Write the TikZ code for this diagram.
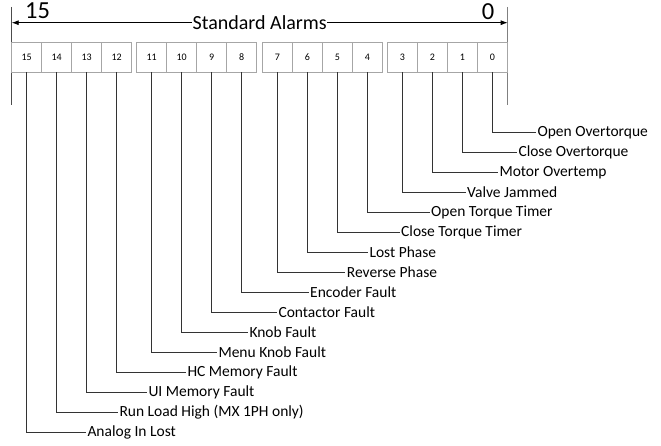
\documentclass[tikz,border=0pt]{standalone}
\usepackage{fontspec}
\setmainfont{Carlito}
\usetikzlibrary{arrows.meta,positioning}

\tikzset{
	bitcell/.style={draw=gray!70,line width=0.8pt,minimum width=30pt,minimum height=30pt,inner sep=0pt,font=\fontsize{10}{11}\selectfont},
	alarm/.style={anchor=west,inner sep=1.5pt,font=\fontsize{15.5}{16}\selectfont},
	lead/.style={line width=0.9pt,draw=black!80}
}

\begin{document}
\begin{tikzpicture}[x=1pt,y=-1pt]
	\useasboundingbox (0,0) rectangle (661,446);
	% end marks of the register
	\coordinate (msbtop) at (11.7,7);
	\coordinate (msbbot) at (11.7,105);
	\coordinate (lsbtop) at (507.7,7);
	\coordinate (lsbbot) at (507.7,105);
	\draw[line width=1pt,draw=black!70] (msbtop) -- (msbbot);
	\draw[line width=1.5pt,draw=gray] (lsbtop) -- (lsbbot);
	\coordinate (arrl) at (11.7,22.7);
	\coordinate (arrr) at (507.7,22.7);
	\draw[line width=0.8pt,{Latex[length=7pt,width=5pt]}-{Latex[length=7pt,width=5pt]}] (arrl) -- (arrr)
		node[midway,fill=white,inner xsep=0.5pt,inner ysep=2pt,font=\fontsize{20}{21}\selectfont] (title) {Standard Alarms};
	\node[font=\fontsize{24.5}{25}\selectfont,inner sep=0pt] (hi) at (37.5,11) {15};
	\node[font=\fontsize{24.5}{25}\selectfont,inner sep=0pt] (lo) at (488,12) {0};
	% bit cells
	\foreach\b\x in {15/26.7, 14/56.7, 13/86.7, 12/116.7, 11/151.7, 10/181.7, 9/211.7, 8/241.7,
		7/277.3, 6/307.3, 5/337.3, 4/367.3, 3/402.3, 2/432.3, 1/462.3, 0/492.3}
	{\node[bitcell] (b\b) at (\x,57) {\b};}
	% alarm names
	\foreach\b\lx\txt in {0/535.8/Open Overtorque, 1/516.8/Close Overtorque, 2/497.8/Motor Overtemp,
		3/465.5/Valve Jammed, 4/429.5/Open Torque Timer, 5/399.5/Close Torque Timer,
		6/367.8/Lost Phase, 7/345.2/Reverse Phase, 8/308.5/Encoder Fault,
		9/276.8/Contactor Fault, 10/247.8/Knob Fault, 11/216.8/Menu Knob Fault,
		12/185.8/HC Memory Fault, 13/146.8/UI Memory Fault,
		14/117.8/Run Load High (MX 1PH only), 15/85.8/Analog In Lost}
	{\node[alarm] (l\b) at (\lx,132.3+20*\b) {\txt};
	 \draw[lead] (b\b.south) |- (l\b.west);}
\end{tikzpicture}
\end{document}
